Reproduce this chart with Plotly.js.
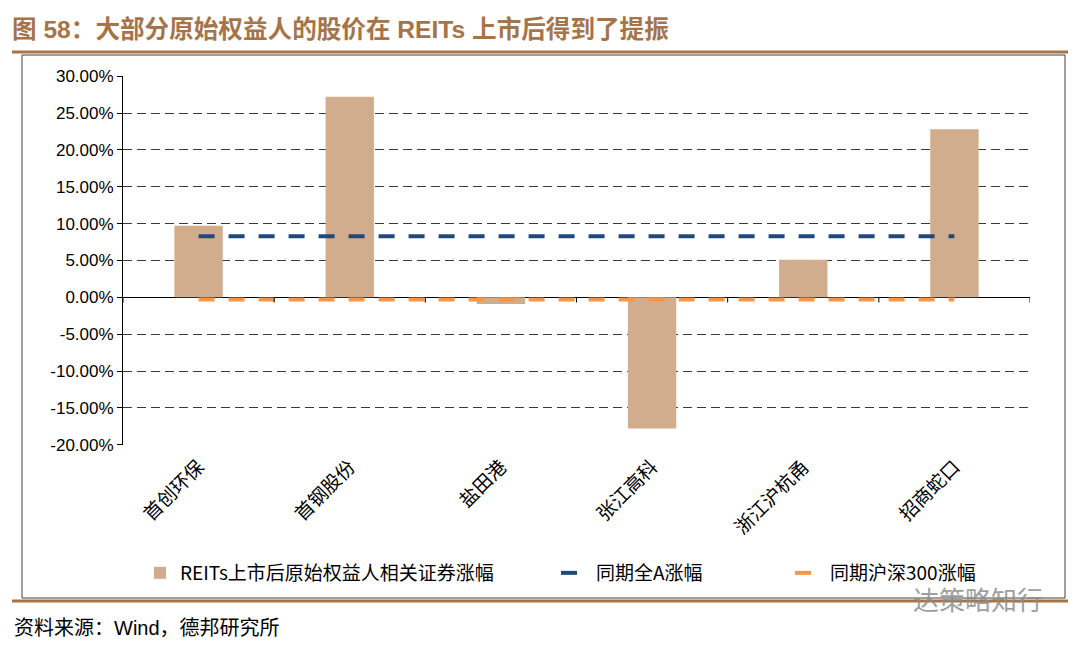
<!DOCTYPE html>
<html>
<head>
<meta charset="utf-8">
<script src="https://cdn.plot.ly/plotly-3.0.1.min.js"></script>
<style>
html,body{margin:0;padding:0;background:#fff;}
#chart{width:1080px;height:647px;}
</style>
</head>
<body>
<div id="chart"></div>
<script>
// ---- data ----
const categories = ["首创环保", "首钢股份", "盐田港", "张江高科", "浙江沪杭甬", "招商蛇口"];
const reitsGain = [9.7, 27.2, -0.9, -17.8, 5.1, 22.8];
const allAGain = [8.3, 8.3, 8.3, 8.3, 8.3, 8.3];
const hs300Gain = [-0.3, -0.3, -0.3, -0.3, -0.3, -0.3];
const yTickVals = [30, 25, 20, 15, 10, 5, 0, -5, -10, -15, -20];
const yTickText = ["30.00%", "25.00%", "20.00%", "15.00%", "10.00%", "5.00%", "0.00%", "-5.00%", "-10.00%", "-15.00%", "-20.00%"];
const seriesNames = ["REITs上市后原始权益人相关证券涨幅", "同期全A涨幅", "同期沪深300涨幅"];
const titleText = "图 58：大部分原始权益人的股价在 REITs 上市后得到了提振";
const sourceText = "资料来源：Wind，德邦研究所";
const watermarkText = "达策略知行";

const CJK = "'Liberation Sans', 'Noto Sans CJK SC', sans-serif";
const brown = "#A57449";

const traces = [
  {type: "bar", x: categories, y: reitsGain, name: seriesNames[0],
   marker: {color: "#D2AD8D"}, width: 0.32, legend: "legend"},
  {type: "scatter", mode: "lines", x: categories, y: allAGain, name: seriesNames[1],
   line: {color: "#1F497D", width: 4, dash: "16px,14px"}, legend: "legend2"},
  {type: "scatter", mode: "lines", x: categories, y: hs300Gain, name: seriesNames[2],
   line: {color: "#F79646", width: 4, dash: "16px,14px"}, legend: "legend3"}
];

// plot area in pixels: x 123..1030, y 76..445
const L = 123, R = 1030, T = 76, B = 445;
const px = v => (v - L) / (R - L);
const py = v => (B - v) / (B - T);

const shapes = [
  // outer frame
  {type: "rect", xref: "paper", yref: "paper", x0: px(22), x1: px(1065), y0: py(598), y1: py(55),
   line: {color: "#404040", width: 1}, layer: "below"},
  // brown rules
  {type: "line", xref: "paper", yref: "paper", x0: px(12), x1: px(1068), y0: py(52), y1: py(52),
   line: {color: brown, width: 3}},
  {type: "line", xref: "paper", yref: "paper", x0: px(12), x1: px(1068), y0: py(601), y1: py(601),
   line: {color: brown, width: 3}}
];
// category boundary tick marks on the zero axis
for (let i = 0; i <= categories.length; i++) {
  shapes.push({type: "line", xref: "x", yref: "y", x0: i - 0.5, x1: i - 0.5, y0: 0, y1: -0.7,
    line: {color: "#000", width: 1}});
}

const legendFont = {family: "'Noto Sans CJK SC', sans-serif", size: 19, color: "#000"};
const mkLegend = xpx => ({orientation: "h", x: px(xpx), xanchor: "left", y: py(573), yanchor: "middle",
  font: legendFont, bgcolor: "rgba(0,0,0,0)"});

const layout = {
  width: 1080, height: 647,
  margin: {l: L, r: 1080 - R, t: T, b: 647 - B},
  paper_bgcolor: "#fff", plot_bgcolor: "#fff",
  showlegend: true,
  title: {text: titleText, xref: "container", yref: "container", x: 12 / 1080, xanchor: "left",
          y: 1 - 29 / 647, yanchor: "middle",
          font: {family: CJK, size: 24.6, color: brown, weight: "bold"}},
  xaxis: {type: "category", showline: false, ticks: "", showgrid: false, zeroline: false,
          tickangle: -45, ticklabelstandoff: 6,
          tickfont: {family: "'Noto Sans CJK SC', sans-serif", size: 19, color: "#000"},
          range: [-0.5, categories.length - 0.5]},
  yaxis: {range: [-20.03, 30.03], tickvals: yTickVals, ticktext: yTickText,
          showline: true, linecolor: "#000", linewidth: 1,
          ticks: "outside", ticklen: 5, tickcolor: "#000",
          tickfont: {family: "'Liberation Sans', Arial, sans-serif", size: 17, color: "#000"},
          showgrid: true, gridcolor: "#3a3a3a", gridwidth: 1.3, griddash: "9px,5px",
          zeroline: true, zerolinecolor: "#000", zerolinewidth: 1},
  legend: mkLegend(140),
  legend2: mkLegend(556),
  legend3: mkLegend(790),
  shapes: shapes,
  annotations: [
    {text: sourceText, xref: "paper", yref: "paper", x: px(12), y: py(628), xanchor: "left", yanchor: "middle",
     showarrow: false, font: {family: CJK, size: 20, color: "#000"}},
    {text: watermarkText, xref: "paper", yref: "paper", x: px(1045), y: py(598), xanchor: "right", yanchor: "middle",
     showarrow: false, font: {family: "'Noto Sans CJK SC', sans-serif", size: 26, color: "rgba(140,140,140,0.85)"}}
  ],
  bargap: 0.68
};

Plotly.newPlot("chart", traces, layout, {displayModeBar: false, responsive: false});
</script>
</body>
</html>
